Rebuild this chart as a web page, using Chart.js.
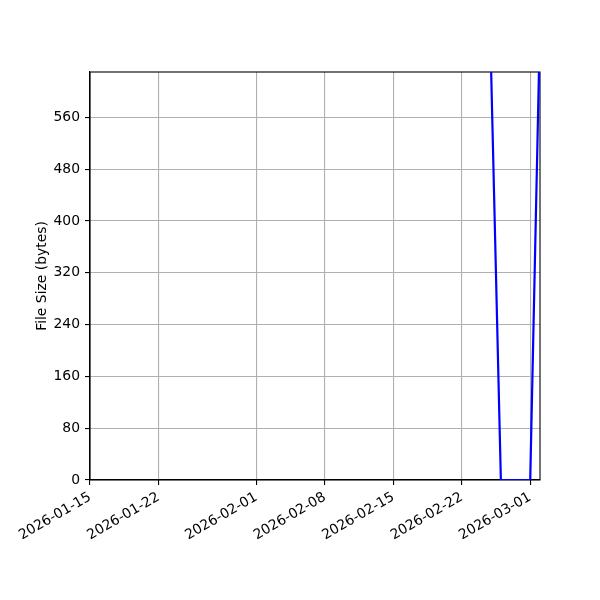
<!DOCTYPE html>
<html>
<head>
<meta charset="utf-8">
<script src="https://cdn.jsdelivr.net/npm/chart.js@4"></script>
<style>
  html, body { margin: 0; padding: 0; background: #fff; }
  #wrap { width: 600px; height: 600px; }
</style>
</head>
<body>
<div id="wrap"><canvas id="chart" width="600" height="600"></canvas></div>
<script>
// data
const dates = ['2026-02-25', '2026-02-26', '2026-02-27', '2026-02-28', '2026-03-01', '2026-03-02'];
const sizes = [635, 0, 0, 0, 0, 705];
const xTickDates = ['2026-01-15', '2026-01-22', '2026-02-01', '2026-02-08', '2026-02-15', '2026-02-22', '2026-03-01'];
const yTicks = [0, 80, 160, 240, 320, 400, 480, 560];
const xStart = '2026-01-15';
const xEnd = '2026-03-02';
const yMax = 630;

const DAY = 86400000;
function toDay(s) {
    const p = s.split('-').map(Number);
    return Date.UTC(p[0], p[1] - 1, p[2]) / DAY;
}
function fmtDay(d) {
    return new Date(Math.round(d) * DAY).toISOString().slice(0, 10);
}

const points = dates.map((d, i) => ({ x: toDay(d), y: sizes[i] }));
const font = { family: 'DejaVu Sans', size: 13.9 };

Chart.defaults.font.family = 'DejaVu Sans';
Chart.defaults.color = '#000';

new Chart(document.getElementById('chart').getContext('2d'), {
    type: 'line',
    data: {
        datasets: [{
            data: points,
            borderColor: '#0000ff',
            borderWidth: 2.2,
            pointRadius: 0,
            tension: 0,
            fill: false,
            clip: { left: 0, top: 0, right: 0, bottom: 0 }
        }]
    },
    options: {
        responsive: false,
        animation: false,
        devicePixelRatio: 1,
        layout: { padding: { top: 72, right: 60, left: 34, bottom: 0 } },
        plugins: { legend: { display: false }, tooltip: { enabled: false } },
        scales: {
            x: {
                type: 'linear',
                min: toDay(xStart),
                max: toDay(xEnd),
                afterBuildTicks: axis => {
                    axis.ticks = xTickDates.map(d => ({ value: toDay(d) }));
                },
                afterFit: axis => { axis.height = 120; },
                ticks: {
                    font: font,
                    color: '#000',
                    maxRotation: 30,
                    minRotation: 30,
                    autoSkip: false,
                    padding: 4,
                    callback: v => fmtDay(v)
                },
                grid: {
                    color: '#b0b0b0',
                    lineWidth: 1.1,
                    tickColor: '#000',
                    tickLength: 5,
                    tickWidth: 1.1
                },
                border: { color: '#000', width: 1.1 }
            },
            y: {
                type: 'linear',
                min: 0,
                max: yMax,
                afterBuildTicks: axis => {
                    axis.ticks = yTicks.map(v => ({ value: v }));
                },
                afterFit: axis => { axis.width = 56; },
                ticks: {
                    font: font,
                    color: '#000',
                    padding: 5,
                    callback: v => String(v)
                },
                grid: {
                    color: '#b0b0b0',
                    lineWidth: 1.1,
                    tickColor: '#000',
                    tickLength: 5,
                    tickWidth: 1.1
                },
                border: { color: '#000', width: 1.1 },
                title: {
                    display: true,
                    text: 'File Size (bytes)',
                    font: font,
                    color: '#000',
                    padding: { top: 0, bottom: 0 }
                }
            }
        }
    },
    plugins: [{
        id: 'frame',
        beforeDatasetsDraw(chart) {
            const { ctx, chartArea: a } = chart;
            ctx.save();
            ctx.strokeStyle = '#000';
            ctx.lineWidth = 1.1;
            ctx.strokeRect(a.left, a.top, a.right - a.left, a.bottom - a.top);
            ctx.restore();
        }
    }]
});
</script>
</body>
</html>
